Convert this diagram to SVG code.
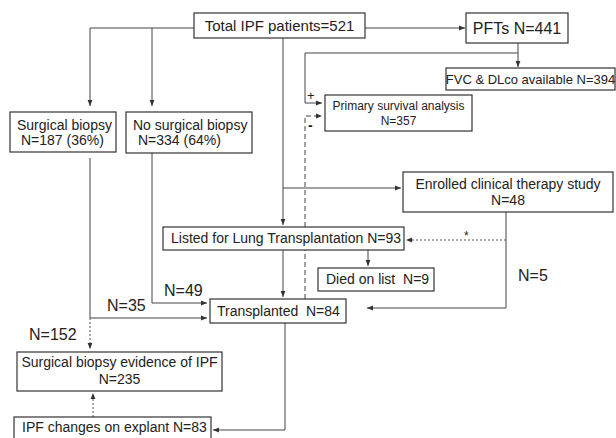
<svg xmlns="http://www.w3.org/2000/svg" width="616" height="438" viewBox="0 0 616 438">
<style>
  text { font-family: "Liberation Sans", Arial, sans-serif; fill: #222; white-space: pre; }
  .box { fill: #fff; stroke: #333; stroke-width: 1.2; }
  .ln { fill: none; stroke: #444; stroke-width: 1; marker-end: url(#ah); }
  .dash { fill: none; stroke: #444; stroke-width: 1; stroke-dasharray: 5 3; marker-end: url(#ah); }
  .dot { fill: none; stroke: #555; stroke-width: 1; stroke-dasharray: 2 2; marker-end: url(#ah); }
  .t15 { font-size: 15px; } .t16 { font-size: 16px; } .t14 { font-size: 14px; } .t13 { font-size: 13px; } .t12 { font-size: 12px; }
  .mid { text-anchor: middle; }
</style>
<defs>
  <marker id="ah" viewBox="0 0 6 6" refX="6" refY="3" markerWidth="6" markerHeight="6" markerUnits="userSpaceOnUse" orient="auto">
    <path d="M0,0.6 L6,3 L0,5.4 z" fill="#333"/>
  </marker>
</defs>
<rect width="616" height="438" fill="#fff"/>
<g id="connectors">
  <path class="ln" d="M194,28 H90 V106"/>
  <path class="ln" d="M152,28 V106"/>
  <path class="ln" d="M365,28 H465"/>
  <path class="ln" d="M283,38 V225"/>
  <path class="ln" d="M283,188 H401"/>
  <path class="ln" d="M518,43 V67"/>
  <path class="ln" d="M518,53 H305 V103 H322"/>
  <path class="dash" d="M305,299 V116 H322"/>
  <path class="ln" d="M90,158 V318 H207"/>
  <path class="dot" d="M90,318 V349"/>
  <path class="ln" d="M152,153 V303 H207"/>
  <path class="ln" d="M283,250 V297"/>
  <path class="ln" d="M368,250 V266"/>
  <path class="ln" d="M506,212 V308 H367"/>
  <path class="dot" d="M506,240 H406"/>
  <path class="ln" d="M285,323 V430 H213"/>
  <path class="dot" d="M93,417 V393"/>
</g>
<g id="total"><rect class="box" x="194" y="13" width="171" height="25"/><text class="t15 mid" x="279.5" y="31">Total IPF patients=521</text></g>
<g id="pfts"><rect class="box" x="466" y="13" width="102" height="30"/><text class="t16 mid" x="517" y="34">PFTs N=441</text></g>
<g id="fvc"><rect class="box" x="446" y="68" width="169" height="22"/><text class="t13 mid" x="530.5" y="84">FVC &amp; DLco available N=394</text></g>
<g id="primary"><rect class="box" x="325" y="95" width="147" height="36"/><text class="t12 mid" x="398.5" y="110">Primary survival analysis</text><text class="t12 mid" x="398.5" y="125">N=357</text></g>
<g id="surgical"><rect class="box" x="10" y="112" width="106" height="40"/><text class="t14" x="17" y="130">Surgical biopsy</text><text class="t14" x="21" y="145">N=187 (36%)</text></g>
<g id="nosurgical"><rect class="box" x="126" y="112" width="126" height="41"/><text class="t14" x="133" y="130">No surgical biopsy</text><text class="t14" x="138" y="145">N=334 (64%)</text></g>
<g id="enrolled"><rect class="box" x="403" y="172" width="210" height="40"/><text class="t14 mid" x="508" y="189">Enrolled clinical therapy study</text><text class="t14 mid" x="508" y="205">N=48</text></g>
<g id="listed"><rect class="box" x="163" y="227" width="241" height="23"/><text class="t14" x="171" y="243">Listed for Lung Transplantation N=93</text></g>
<g id="died"><rect class="box" x="318" y="268" width="116" height="23"/><text class="t14" x="326" y="284">Died on list  N=9</text></g>
<g id="transplanted"><rect class="box" x="210" y="299" width="136" height="24"/><text class="t14" x="217" y="316">Transplanted  N=84</text></g>
<g id="evidence"><rect class="box" x="17" y="352" width="205" height="39"/><text class="t14 mid" x="119.5" y="367">Surgical biopsy evidence of IPF</text><text class="t14 mid" x="119.5" y="384">N=235</text></g>
<g id="explant"><rect class="box" x="14" y="417" width="197" height="30"/><text class="t14" x="22" y="432">IPF changes on explant N=83</text></g>
<g id="labels">
  <text class="t16" x="164" y="296">N=49</text>
  <text class="t16" x="107" y="311">N=35</text>
  <text class="t16" x="29" y="340">N=152</text>
  <text class="t16" x="518" y="281">N=5</text>
  <text class="t12" x="464" y="240">*</text>
  <text class="t13" x="307" y="100">+</text>
  <text class="t14" x="308" y="130" style="font-weight:bold">-</text>
</g>
</svg>
